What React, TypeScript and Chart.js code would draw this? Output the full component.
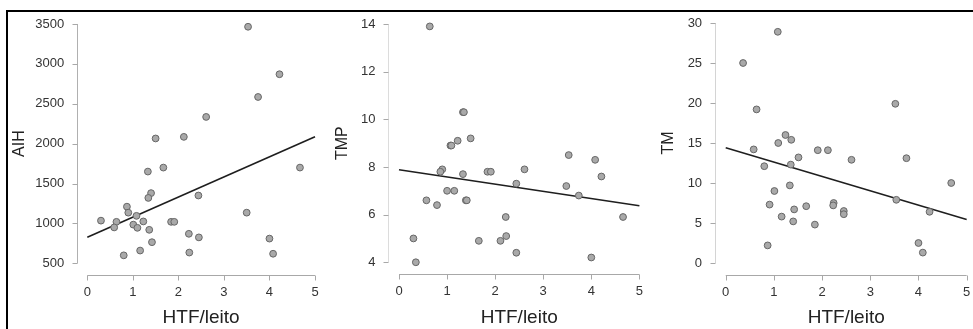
import React, { useEffect, useRef } from "react";
import { Chart, registerables } from "chart.js";

Chart.register(...registerables);

// ---------- data ----------
const xTickValues = [0, 1, 2, 3, 4, 5];
const xTitle = "HTF/leito";

const aihX = [3.53, 4.22, 3.75, 2.61, 2.12, 1.50, 1.33, 1.67, 4.67, 1.40, 1.34, 2.44, 0.87, 0.90, 1.08, 3.50, 0.30, 0.64, 0.59, 1.23, 1.01, 1.10, 1.36, 1.84, 1.91, 2.23, 2.45, 1.42, 1.16, 0.80, 2.24, 4.00, 4.08];
const aihY = [3465, 2870, 2585, 2335, 2085, 2065, 1650, 1700, 1700, 1380, 1320, 1350, 1210, 1135, 1095, 1135, 1035, 1020, 950, 1025, 985, 945, 920, 1020, 1020, 870, 825, 765, 660, 600, 635, 810, 620];
const aihTicks = [500, 1000, 1500, 2000, 2500, 3000, 3500];
const aihFit = [826, 2087];

const tmpX = [0.64, 1.33, 1.35, 1.07, 1.09, 1.22, 1.49, 3.53, 4.08, 4.21, 3.48, 3.74, 4.66, 4.00, 0.90, 0.86, 1.33, 1.84, 1.91, 2.61, 2.44, 1.00, 1.15, 0.57, 0.79, 1.39, 1.41, 2.22, 0.30, 0.35, 1.66, 2.11, 2.23, 2.44];
const tmpY = [13.9, 10.3, 10.3, 8.9, 8.9, 9.1, 9.2, 8.5, 8.3, 7.6, 7.2, 6.8, 5.9, 4.2, 7.9, 7.8, 7.7, 7.8, 7.8, 7.9, 7.3, 7.0, 7.0, 6.6, 6.4, 6.6, 6.6, 5.9, 5.0, 4.0, 4.9, 4.9, 5.1, 4.4];
const tmpTicks = [4, 6, 8, 10, 12, 14];
const tmpFit = [7.88, 6.37];

const tmX = [1.08, 0.36, 0.64, 3.52, 1.24, 1.36, 1.09, 0.58, 1.91, 2.12, 1.51, 2.61, 3.75, 0.80, 1.35, 4.68, 1.33, 1.01, 0.91, 2.24, 2.23, 1.67, 1.42, 2.45, 2.45, 3.54, 4.23, 1.16, 1.40, 1.85, 0.87, 4.00, 4.09];
const tmY = [28.9, 25.0, 19.2, 19.9, 16.0, 15.4, 15.0, 14.2, 14.1, 14.1, 13.2, 12.9, 13.1, 12.1, 12.3, 10.0, 9.7, 9.0, 7.3, 7.5, 7.2, 7.1, 6.7, 6.5, 6.1, 7.9, 6.4, 5.8, 5.2, 4.8, 2.2, 2.5, 1.3];
const tmTicks = [0, 5, 10, 15, 20, 25, 30];
const tmFit = [14.4, 5.45];

// ---------- styling / layout ----------
const FONT = "'Liberation Sans', Arial, Helvetica, sans-serif";

type PanelProps = {
  left: number;
  width: number;
  xs: number[];
  ys: number[];
  fit: number[];
  yTicks: number[];
  yTitle: string;
  yAxisWidth: number;
  padRight: number;
  padTop: number;
  xAxisHeight: number;
  yTitlePad: number;
  yAxisColor: string;
};

const rAxesPlugin = {
  id: "rAxes",
  beforeDatasetsDraw(chart: any, _args: any, opts: any) {
    const { ctx, chartArea } = chart;
    const xs = chart.scales.x;
    const ys = chart.scales.y;
    const xT: number[] = opts.xTicks;
    const yT: number[] = opts.yTicks;
    ctx.save();
    ctx.lineWidth = 1;
    // x axis
    const ay = Math.round(chartArea.bottom + 2) + 0.5;
    ctx.strokeStyle = opts.xColor;
    ctx.beginPath();
    ctx.moveTo(xs.getPixelForValue(xT[0]), ay);
    ctx.lineTo(xs.getPixelForValue(xT[xT.length - 1]), ay);
    for (const t of xT) {
      const px = Math.round(xs.getPixelForValue(t)) + 0.5;
      ctx.moveTo(px, ay);
      ctx.lineTo(px, ay + 5);
    }
    ctx.stroke();
    // y axis
    const ax = Math.round(chartArea.left - 1.5) + 0.5;
    ctx.strokeStyle = opts.yColor;
    ctx.beginPath();
    ctx.moveTo(ax, ys.getPixelForValue(yT[0]));
    ctx.lineTo(ax, ys.getPixelForValue(yT[yT.length - 1]));
    ctx.stroke();
    ctx.strokeStyle = opts.xColor;
    ctx.beginPath();
    for (const t of yT) {
      const py = Math.round(ys.getPixelForValue(t)) + 0.5;
      ctx.moveTo(ax, py);
      ctx.lineTo(ax - 5, py);
    }
    ctx.stroke();
    ctx.restore();
  },
};

function Panel(p: PanelProps) {
  const ref = useRef<HTMLCanvasElement | null>(null);
  useEffect(() => {
    if (!ref.current) return;
    const xSpan = xTickValues[xTickValues.length - 1] - xTickValues[0];
    const ySpan = p.yTicks[p.yTicks.length - 1] - p.yTicks[0];
    const points = p.xs.map((x, i) => ({ x, y: p.ys[i] }));
    const fitLine = [
      { x: xTickValues[0], y: p.fit[0] },
      { x: xTickValues[xTickValues.length - 1], y: p.fit[1] },
    ];
    const chart = new Chart(ref.current, {
      type: "scatter",
      data: {
        datasets: [
          {
            data: points,
            pointRadius: 3.4,
            pointBorderWidth: 1,
            pointBackgroundColor: "#a9a9a9",
            pointBorderColor: "#666666",
          } as any,
          {
            type: "line",
            data: fitLine,
            showLine: true,
            borderColor: "#1e1e1e",
            borderWidth: 1.6,
            pointRadius: 0,
            fill: false,
          } as any,
        ],
      },
      options: {
        animation: false,
        responsive: false,
        devicePixelRatio: 1,
        layout: { padding: { left: 0, top: p.padTop, right: p.padRight, bottom: 0 } },
        plugins: {
          legend: { display: false },
          tooltip: { enabled: false },
          rAxes: { xTicks: xTickValues, yTicks: p.yTicks, xColor: "#a8a8a8", yColor: p.yAxisColor },
        } as any,
        scales: {
          x: {
            type: "linear",
            min: xTickValues[0] - 0.04 * xSpan,
            max: xTickValues[xTickValues.length - 1] + 0.04 * xSpan,
            grid: { display: false, drawTicks: true, tickLength: 12 },
            border: { display: false },
            afterBuildTicks: (s: any) => {
              s.ticks = xTickValues.map((v) => ({ value: v }));
            },
            afterFit: (s: any) => {
              s.height = p.xAxisHeight;
              s.paddingLeft = 0;
              s.paddingRight = 0;
            },
            ticks: {
              padding: 0,
              color: "#333333",
              font: { size: 13, family: FONT },
              maxRotation: 0,
              autoSkip: false,
              callback: (v: any) => String(v),
            },
            title: {
              display: true,
              text: xTitle,
              color: "#222222",
              font: { size: 19, family: FONT },
              padding: 0,
            },
          },
          y: {
            type: "linear",
            min: p.yTicks[0] - 0.04 * ySpan,
            max: p.yTicks[p.yTicks.length - 1] + 0.04 * ySpan,
            grid: { display: false, drawTicks: true, tickLength: 14 },
            border: { display: false },
            afterBuildTicks: (s: any) => {
              s.ticks = p.yTicks.map((v) => ({ value: v }));
            },
            afterFit: (s: any) => {
              s.width = p.yAxisWidth;
              s.paddingTop = 0;
              s.paddingBottom = 0;
            },
            ticks: {
              padding: 0,
              color: "#333333",
              font: { size: 13, family: FONT },
              autoSkip: false,
              callback: (v: any) => String(v),
            },
            title: {
              display: true,
              text: p.yTitle,
              color: "#222222",
              font: { size: 16, family: FONT },
              padding: { top: p.yTitlePad, bottom: 0 },
            },
          },
        },
      } as any,
      plugins: [rAxesPlugin],
    });
    return () => chart.destroy();
  }, []);
  return (
    <canvas
      ref={ref}
      width={p.width}
      height={329}
      style={{ position: "absolute", left: p.left, top: 0, width: p.width, height: 329 }}
    />
  );
}

export default function App() {
  return (
    <div
      style={{
        position: "absolute",
        left: 0,
        top: 0,
        width: 973,
        height: 329,
        overflow: "hidden",
        background: "#ffffff",
      }}
    >
      <div
        style={{
          position: "absolute",
          left: 6,
          top: 10,
          width: 1000,
          height: 400,
          borderLeft: "2px solid #000",
          borderTop: "2px solid #000",
        }}
      />
      <Panel left={0} width={340} xs={aihX} ys={aihY} fit={aihFit} yTicks={aihTicks} yTitle="AIH"
        yAxisWidth={78.2} padRight={15.9} padTop={14.4} xAxisHeight={56.1} yTitlePad={10.4} yAxisColor="#b0b0b0" />
      <Panel left={330} width={335} xs={tmpX} ys={tmpY} fit={tmpFit} yTicks={tmpTicks} yTitle="TMP"
        yAxisWidth={59.4} padRight={16} padTop={14.5} xAxisHeight={57.2} yTitlePad={3.4} yAxisColor="#dcdcdc" />
      <Panel left={650} width={340} xs={tmX} ys={tmY} fit={tmFit} yTicks={tmTicks} yTitle="TM"
        yAxisWidth={66.1} padRight={13.7} padTop={13.4} xAxisHeight={56.4} yTitlePad={9.2} yAxisColor="#d4d4d4" />
    </div>
  );
}
